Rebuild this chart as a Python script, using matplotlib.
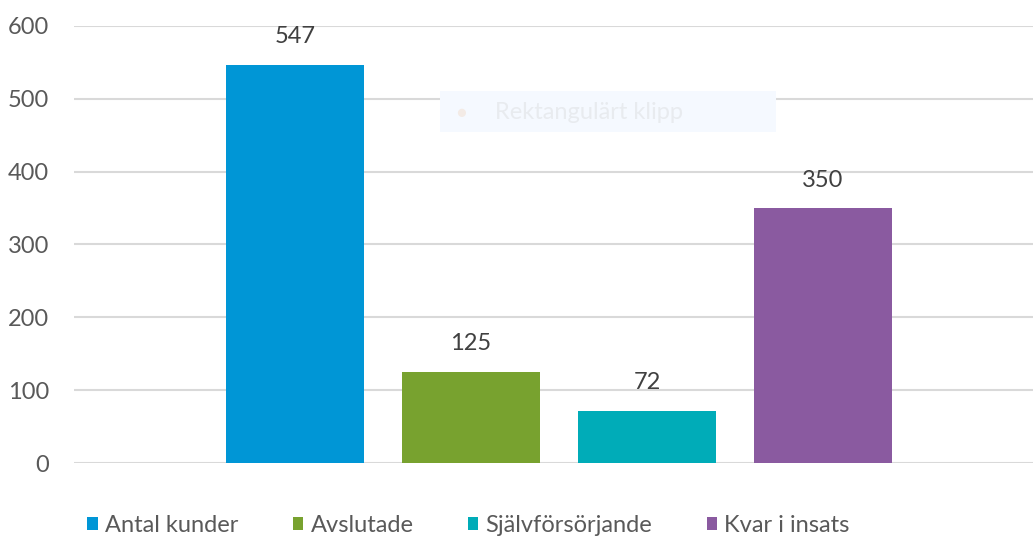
import matplotlib.pyplot as plt
from matplotlib.patches import FancyBboxPatch

# data
series = ['Antal kunder', 'Avslutade', 'Självförsörjande', 'Kvar i insats']
values = [547, 125, 72, 350]
colors = ['#0096d6', '#78a22f', '#00acb8', '#8a5aa0']
yticks = [0, 100, 200, 300, 400, 500, 600]

plt.rcParams['font.family'] = ['Lato', 'DejaVu Sans']

fig = plt.figure(figsize=(10.33, 5.37), dpi=100)
ax = fig.add_axes([0.0716, 0.1378, 0.9284, 0.8138])

xs = [1, 2, 3, 4]
for x, v, c, name in zip(xs, values, colors, series):
    ax.bar(x, v, width=0.784, color=c, label=name, zorder=3)
    ax.text(x, v + 24, str(v), ha='center', va='bottom', fontsize=17, color='#404040', zorder=4)

ax.set_xlim(-0.256, 5.193)
ax.set_ylim(0, 600)
ax.set_yticks(yticks)
ax.set_xticks([])
ax.yaxis.grid(True, color='#d9d9d9', linewidth=1.5, zorder=2)
ax.tick_params(axis='y', length=0, labelsize=17, labelcolor='#595959', pad=18)
for s in ax.spines.values():
    s.set_visible(False)

# faint screenshot overlay ("Rektangulärt klipp")
box = FancyBboxPatch((440 / 1033, 1 - 132 / 537), 336 / 1033, 41 / 537,
                     boxstyle='square,pad=0', transform=fig.transFigure,
                     facecolor='#f5f9ff', edgecolor='none', zorder=0)
fig.patches.append(box)
fig.text(461 / 1033, 1 - 113 / 537, '\u25cf', color='#f3ebe6', fontsize=12, ha='center', va='center')
fig.text(495 / 1033, 1 - 113 / 537, 'Rektangulärt klipp', color='#e8ebef', fontsize=17, ha='left', va='center')
ax.set_facecolor('none')

fig.legend(loc='lower left', bbox_to_anchor=(0.064, -0.037), ncol=4, frameon=False,
           fontsize=17, handlelength=0.45, handleheight=0.45, handletextpad=0.3,
           columnspacing=2.3, labelcolor='#595959')

fig.savefig('out.png', dpi=100)
